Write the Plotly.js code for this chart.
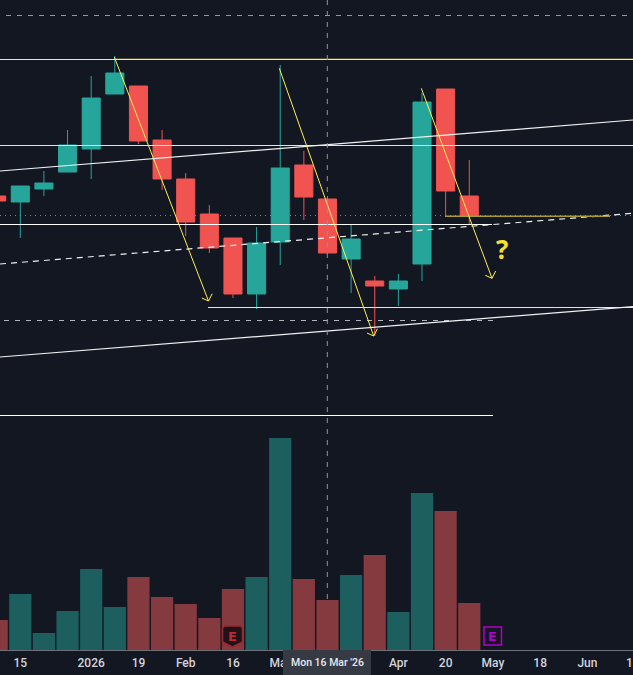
<!DOCTYPE html>
<html>
<head>
<meta charset="utf-8">
<script src="https://cdn.plot.ly/plotly-3.0.1.min.js"></script>
<style>html,body{margin:0;padding:0;background:#131722;overflow:hidden}#c{width:633px;height:675px}</style>
</head>
<body>
<div id="c"></div>
<script>
// Week index: 0 = Mon 15 Dec 2025. Prices and volumes are in chart units.
const weeks  = [-1,0,1,2,3,4,5,6,7,8,9,10,11,12,13,14,15,16,17,18,19];
const open   = [454,448,461,478,501,556,564,510,471,436,412,356,408,485,451,391,369,361,386,561,454];
const close  = [449,464,467,505,552,577,509,471,428,402,356,407,482,453,397,411,364,369,548,459,434];
const high   = [454,464,479,520,574,594,564,520,477,445,412,423,585,499,454,425,374,376,557,561,490];
const low    = [449,412,454,478,471,556,506,460,414,397,352,341,385,430,397,357,314,344,369,434,426];
const volume = [30,56,17,39,81,43,73,53,46,32,61,73,212,71,50,75,95,38,157,139,47];

const tickWeeks  = [0,3,5,7,9,11,16,18,20,22,24];
const tickLabels = ['15','2026','19','Feb','16','Mar','Apr','20','May','18','Jun'];

const WEEK0 = 20.3, WEEK_W = 23.63, PLOT_H = 650;
const xAt = px => (px - WEEK0) / WEEK_W;
const yAt = px => PLOT_H - px;

const UP = '#26a69a', DOWN = '#f05350', YEL = '#ffee58', WHITE = '#ffffff';

function seg(x0, y0, x1, y1, color, width, dash, opacity) {
  return {type:'scatter', mode:'lines', x:[xAt(x0),xAt(x1)], y:[yAt(y0),yAt(y1)],
    line:{color:color,width:width,dash:dash||'solid'}, opacity:opacity==null?1:opacity,
    hoverinfo:'skip', showlegend:false};
}
function arrow(x0, y0, x1, y1) {
  return {type:'scatter', mode:'lines',
    x:[xAt(x0),xAt(x1),null,xAt(x1-6.7),xAt(x1),xAt(x1+3.7)],
    y:[yAt(y0),yAt(y1),null,yAt(y1-3),yAt(y1),yAt(y1-7.3)],
    line:{color:YEL,width:1}, hoverinfo:'skip', showlegend:false};
}

const traces = [
  {type:'bar', x:weeks, y:volume, yaxis:'y2', width:0.94,
   marker:{color:weeks.map((_,i)=> close[i]>=open[i] ? '#1d5f5f' : '#843a3e'), line:{width:0}},
   hoverinfo:'skip', showlegend:false},
  {type:'candlestick', x:weeks, open:open, high:high, low:low, close:close,
   increasing:{line:{color:UP,width:1},fillcolor:UP},
   decreasing:{line:{color:DOWN,width:1},fillcolor:DOWN},
   whiskerwidth:0, hoverinfo:'skip', showlegend:false},
  seg(6,15.5,633,15.5,'#9598a1',1,'5px,6px'),
  seg(0,59.5,633,59.5,YEL,1),
  seg(115,58.5,633,58.5,'#8a8040',1,'solid',0.5),
  seg(0,145.5,633,145.5,YEL,1),
  seg(0,224.5,492,224.5,WHITE,1),
  seg(208,307.5,633,307.5,YEL,1),
  seg(0,415.5,493,415.5,WHITE,1),
  seg(4,320.5,493,320.5,'#b2b5be',1,'5px,6px'),
  seg(0,215.5,633,215.5,DOWN,1,'1px,4px'),
  seg(0,171,633,120,'#f0f0f0',1.2),
  seg(0,264,633,213.3,'#f0f0f0',1.2,'6px,5px'),
  seg(0,357,633,306.7,'#f0f0f0',1.2),
  seg(445,216.3,610,216.3,'#a89a35',1.6),
  arrow(114.3,57,208.5,301),
  arrow(279.3,68.3,373.7,336),
  arrow(421.3,88.3,492,278.3),
  seg(327.3,0,327.3,650,'#8a94a6',1,'5px,6px')
];

const shieldX = [-10,-8,8,10,10,0,-10].map(p=>p+232.5);
const shieldY = [-8,-10,-10,-8,6,11,6].map(p=>p+636);
const inner = (a,b) => 'M'+a.map((p,i)=>xAt(p)+','+yAt(b[i])).join(' L')+' Z';

const layout = {
  width:633, height:675,
  margin:{l:0,r:0,t:0,b:25,pad:0},
  paper_bgcolor:'#131722', plot_bgcolor:'#131722',
  boxgap:0.235, boxgroupgap:0, boxmode:'overlay', bargap:0.06,
  showlegend:false,
  font:{family:'Roboto, "Liberation Sans", Arial, sans-serif',color:'#d1d4dc',size:12},
  xaxis:{type:'linear', range:[xAt(0),xAt(633)], tickmode:'array', tickvals:tickWeeks, ticktext:tickLabels,
    showgrid:false, zeroline:false, showline:true, linecolor:'#6e717a', linewidth:1,
    ticks:'', tickfont:{color:'#d1d4dc',size:12,family:'Roboto, sans-serif',weight:500}, ticklabelstandoff:2, fixedrange:true,
    rangeslider:{visible:false}},
  yaxis:{range:[0,PLOT_H], visible:false, fixedrange:true},
  yaxis2:{range:[0,PLOT_H], overlaying:'y', visible:false, fixedrange:true},
  shapes:[
    {type:'rect', xref:'x', yref:'paper', x0:xAt(283), x1:xAt(371), y0:-25/650, y1:0,
     fillcolor:'#363a45', line:{width:0}, layer:'above'},
    {type:'path', xref:'x', yref:'y', path:inner(shieldX,shieldY),
     fillcolor:'#1c1418', line:{color:'#9c2730',width:1.6}, layer:'above'},
    {type:'rect', xref:'x', yref:'y', x0:xAt(484), x1:xAt(501.5), y0:yAt(627), y1:yAt(645),
     fillcolor:'#131722', line:{color:'#b000c8',width:1.5}, layer:'above'}
  ],
  annotations:[
    {xref:'x',yref:'y',x:xAt(502),y:yAt(249),text:'?',showarrow:false,
     font:{family:'"Open Sans", sans-serif',size:26,color:'#f5e12e',weight:700}},
    {xref:'x',yref:'y',x:xAt(232.5),y:yAt(636),text:'E',showarrow:false,
     font:{family:'"DejaVu Sans", sans-serif',size:13,color:'#c8252f',weight:700}},
    {xref:'x',yref:'y',x:xAt(492.5),y:yAt(636),text:'E',showarrow:false,
     font:{family:'"DejaVu Sans", sans-serif',size:13,color:'#b000c8',weight:700}},
    {xref:'x',yref:'paper',x:xAt(327),y:-12.5/650,yanchor:'middle',text:"Mon 16 Mar '26",showarrow:false,
     font:{family:'Roboto, sans-serif',size:10.5,color:'#e8e9ee',weight:500}},
    {xref:'paper',yref:'paper',x:1,xanchor:'right',xshift:2,y:-12.5/650,yanchor:'middle',text:'1',showarrow:false,
     font:{family:'Roboto, sans-serif',size:12,color:'#d1d4dc',weight:500}}
  ]
};
Plotly.newPlot('c', traces, layout, {displayModeBar:false, staticPlot:true});
</script>
</body>
</html>
